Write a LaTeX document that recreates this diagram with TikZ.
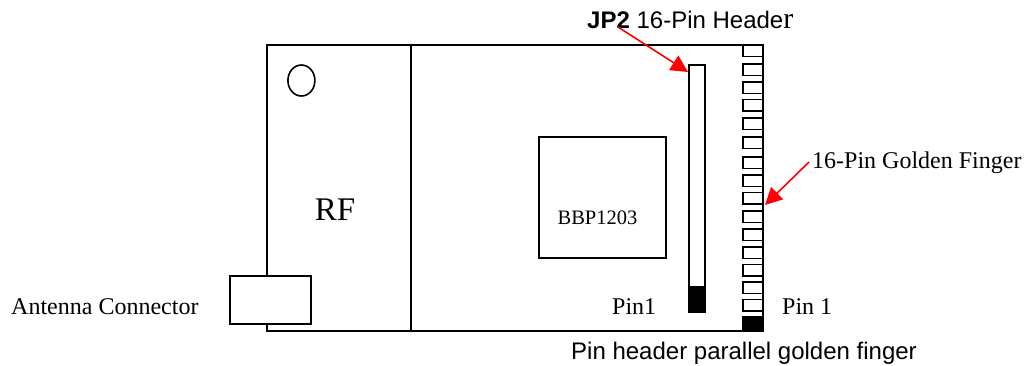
\documentclass[tikz,border=0pt]{standalone}
\usepackage{fontspec}
\setmainfont{Liberation Serif}
\newfontfamily\lsans{Liberation Sans}
\usetikzlibrary{arrows.meta,shapes.geometric,calc}
\tikzset{
  box/.style={draw=black,line width=1.9pt,inner sep=0pt,outer sep=0pt,rectangle,anchor=north west},
  finger/.style={box,minimum width=20pt,minimum height=11.5pt},
  redarrow/.style={draw=red,line width=1.6pt,-{Triangle[length=17pt,width=17pt]}},
  serif/.style={inner sep=0pt,font=\fontsize{24}{26}\selectfont},
  sanslab/.style={inner sep=0pt,font=\lsans\fontsize{24}{26}\selectfont}
}
\begin{document}
\begin{tikzpicture}[x=1pt,y=-1pt]
\useasboundingbox (0,0) rectangle (1024,365);
\node[box,line width=2pt,minimum width=496pt,minimum height=286pt] (board) at (266.7,45) {};
\draw[line width=1.9pt] (410.7,45) coordinate (divtop) -- (410.7,331) coordinate (divbot);
\node[draw,line width=1.6pt,ellipse,minimum width=27pt,minimum height=31pt,inner sep=0pt,outer sep=0pt] (hole) at (301.4,80.5) {};
\node[box,fill=white,minimum width=80.7pt,minimum height=48.3pt] (ant) at (230,275.7) {};
\node[box,minimum width=127pt,minimum height=121pt] (chip) at (539,137) {};
\node[box,minimum width=15.7pt,minimum height=246.7pt] (header) at (689.3,65) {};
\node[box,fill=black,minimum width=15.7pt,minimum height=25pt] (pinone) at (689.3,286.7) {};
\foreach \i/\y in {1/45,2/64,3/82,4/99.5,5/118,6/137,7/157,8/175,9/192.5,10/211,11/229,12/247,13/264.5,14/282,15/299.5}{
  \node[finger] (f\i) at (742.7,\y) {};
}
\node[box,fill=black,minimum width=20pt,minimum height=14.3pt] (f16) at (742.7,316.7) {};
\node[serif,font=\fontsize{33}{36}\selectfont] (rf) at (335,210) {RF};
\node[serif,font=\fontsize{20.5}{24}\selectfont] (bbp) at (597.5,218) {BBP1203};
\node[serif,anchor=west] (antlab) at (11,307) {Antenna Connector};
\node[serif,anchor=west] (pina) at (612,307) {Pin1};
\node[serif,anchor=west] (pinb) at (782,307) {Pin 1};
\node[serif,anchor=west] (gold) at (812,162.5) {16-Pin Golden Finger};
\node[sanslab,anchor=west] (jp) at (587,20) {\textbf{JP2} 16-Pin Heade{\rmfamily\fontsize{30}{32}\selectfont r}};
\node[sanslab,anchor=west] (par) at (571,353.5) {Pin header parallel golden finger};
\coordinate (jpend) at (618,27);
\coordinate (goldstart) at (809,162);
\coordinate (jptip) at (688,72);
\coordinate (goldtip) at (765,205);
\draw[redarrow] (jpend) -- (jptip);
\draw[redarrow] (goldstart) -- (goldtip);
\end{tikzpicture}
\end{document}
